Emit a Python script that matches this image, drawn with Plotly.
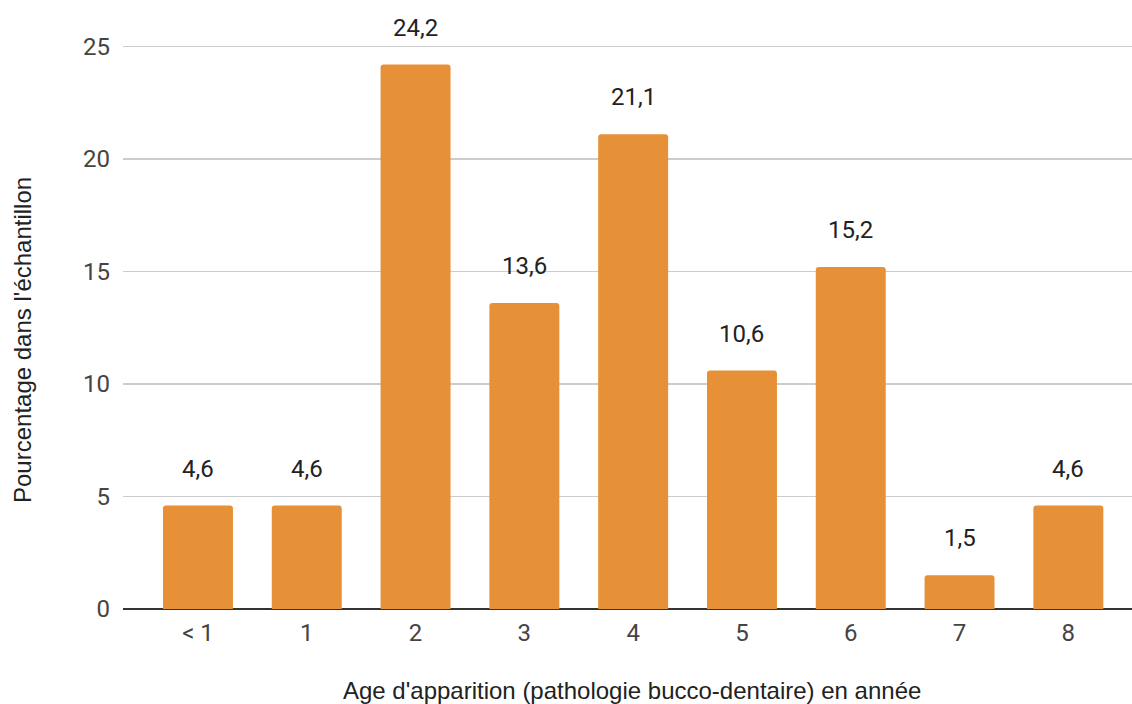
import plotly.graph_objects as go

categories = ["< 1", "1", "2", "3", "4", "5", "6", "7", "8"]
values = [4.6, 4.6, 24.2, 13.6, 21.1, 10.6, 15.2, 1.5, 4.6]
labels = ["4,6", "4,6", "24,2", "13,6", "21,1", "10,6", "15,2", "1,5", "4,6"]
y_ticks = [0, 5, 10, 15, 20, 25]
x_title = "Age d'apparition (pathologie bucco-dentaire) en année"
y_title = "Pourcentage dans l'échantillon"

BAR = "#E69138"

fig = go.Figure()
fig.add_trace(go.Bar(
    x=categories, y=values,
    marker=dict(color=BAR, line=dict(width=0), cornerradius=3),
    width=0.643,
    hoverinfo="skip",
))

for c, v, t in zip(categories, values, labels):
    fig.add_annotation(x=c, y=v, text=t, showarrow=False, yanchor="middle",
                       yshift=37, font=dict(family="Roboto", size=24, color="#222222"))

fig.add_annotation(xref="paper", yref="paper", x=(632 - 123) / 1009, y=-(690 - 609) / 585,
                   text=x_title, showarrow=False, xanchor="center", yanchor="middle",
                   font=dict(family="Liberation Sans", size=24, color="#222222"))
fig.add_annotation(xref="paper", yref="paper", x=-(123 - 22) / 1009, y=(609 - 340) / 585,
                   text=y_title, showarrow=False, xanchor="center", yanchor="middle",
                   textangle=-90,
                   font=dict(family="Liberation Sans", size=24, color="#222222"))

fig.update_layout(
    width=1132, height=704,
    margin=dict(l=123, r=0, t=24, b=95, autoexpand=False),
    plot_bgcolor="white", paper_bgcolor="white",
    showlegend=False,
    xaxis=dict(
        type="category",
        range=[-0.689, 8.585],
        showgrid=False,
        showline=False,
        automargin=False,
        tickfont=dict(family="Roboto", size=24, color="#444444"),
        ticklabelstandoff=7,
    ),
    yaxis=dict(
        range=[0, 26],
        tickvals=y_ticks,
        ticktext=[str(v) for v in y_ticks],
        showgrid=True, gridcolor="#cccccc", gridwidth=1.5,
        zeroline=True, zerolinecolor="#333333", zerolinewidth=1.5,
        showline=False,
        automargin=False,
        tickfont=dict(family="Roboto", size=24, color="#444444"),
        ticklabelstandoff=12,
    ),
)

fig.write_html("out.html",
               config={"displayModeBar": False, "staticPlot": True},
               post_script="document.body.style.margin='0px';document.body.style.overflow='hidden';")
